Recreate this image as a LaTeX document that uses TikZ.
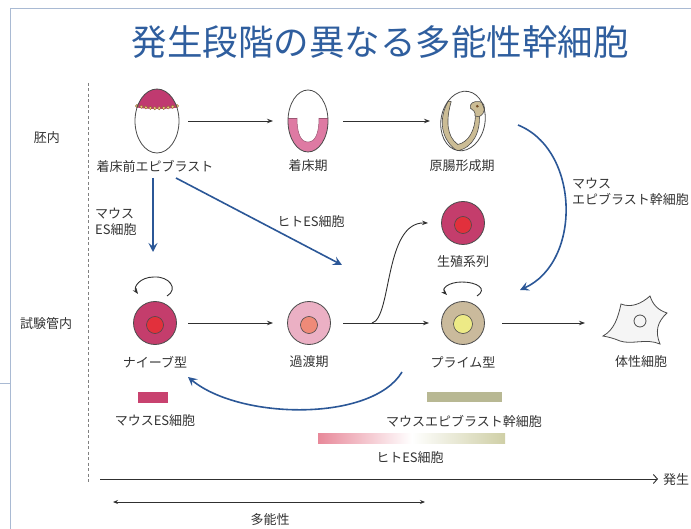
\documentclass[tikz,border=0pt]{standalone}
\usepackage{fontspec}
\setmainfont{Noto Sans CJK JP}
\usetikzlibrary{arrows.meta,calc,shapes.geometric}

\definecolor{titleblue}{HTML}{2F5E9E}
\definecolor{blu}{HTML}{2B5797}
\definecolor{frame}{HTML}{A9BAD3}
\definecolor{txt}{HTML}{333333}
\definecolor{edge}{HTML}{4A4A4A}
\definecolor{arr}{HTML}{303030}
\definecolor{capc}{HTML}{C03A70}
\definecolor{beadc}{HTML}{E6C27A}
\definecolor{implc}{HTML}{DE7AA3}
\definecolor{tanc}{HTML}{CBBC95}
\definecolor{naivec}{HTML}{C43D6C}
\definecolor{naivenuc}{HTML}{E2303C}
\definecolor{transc}{HTML}{EBB0C4}
\definecolor{transnuc}{HTML}{EF8A78}
\definecolor{primedc}{HTML}{CABA9C}
\definecolor{primednuc}{HTML}{EDEA86}
\definecolor{somac}{HTML}{F5F5F5}
\definecolor{mesc}{HTML}{C8426F}
\definecolor{episc}{HTML}{B8B893}
\definecolor{hpink}{HTML}{E8899A}
\definecolor{hkhaki}{HTML}{CFCFA6}

\tikzset{
  lbl/.style={font=\fontsize{13}{16}\selectfont, text=txt, inner sep=0pt},
  outl/.style={draw=edge, line width=0.8pt},
  flow/.style={draw=arr, line width=0.9pt, -{Stealth[length=6pt,width=4.5pt]}},
  bluearr/.style={draw=blu, line width=1.6pt, -{Stealth[length=9pt,width=9pt,inset=3.5pt]}},
  cellnode/.style={circle, draw=edge, line width=0.8pt, minimum size=43pt, inner sep=0pt},
  nucleus/.style={circle, draw=edge, line width=0.6pt, minimum size=17pt, inner sep=0pt},
  embryo/.style={ellipse, draw=edge, line width=0.8pt, inner sep=0pt},
}

\begin{document}
\begin{tikzpicture}[x=1pt,y=-1pt]
\useasboundingbox (0,0) rectangle (691,529);

% slide frame
\draw[frame, line width=0.8pt] (10,8) -- (691,8);
\draw[frame, line width=0.8pt] (10,8) -- (10,529);
\draw[frame, line width=0.6pt] (0,383) -- (10,383);

% title
\node[font=\fontsize{35.5}{42}\selectfont, text=titleblue, inner sep=0pt] (title) at (380,42) {発生段階の異なる多能性幹細胞};

% row separator and row labels
\draw[gray, line width=0.7pt, dash pattern=on 3pt off 2.5pt] (88,83) -- (88,483);
\node[lbl] (invivo) at (47,138) {胚内};
\node[lbl] (invitro) at (46,324) {試験管内};

% --- pre-implantation epiblast
\fill[white] (157,121) ellipse [x radius=22pt, y radius=32pt];
\begin{scope}
  \clip (157,121) ellipse [x radius=22pt, y radius=32pt];
  \fill[capc] (130,80) -- (185,80) -- (185,106) .. controls (170,110) and (144,110) .. (130,106) -- cycle;
\end{scope}
\foreach \t in {0,...,9} {
  \pgfmathsetmacro{\bx}{137+\t*4.45}
  \pgfmathsetmacro{\by}{106+2.2*sin(\t*20)}
  \filldraw[fill=beadc, draw=brown!70!black, line width=0.3pt] (\bx,\by) circle [radius=1.7pt];
}
\node[embryo, minimum width=44pt, minimum height=64pt] (pre) at (157,121) {};
\node[lbl] (prelbl) at (155,166) {着床前エピブラスト};

% --- implantation stage
\begin{scope}
  \clip (308,121) ellipse [x radius=20pt, y radius=31pt];
  \fill[implc] (285,118) rectangle (331,155);
  \fill[white] (297,118) -- (319,118) .. controls (319,134) and (315,142) .. (308,142) .. controls (301,142) and (297,134) .. (297,118) -- cycle;
\end{scope}
\draw[implc!70!black, line width=0.5pt] (297,118) .. controls (297,134) and (301,142) .. (308,142) .. controls (315,142) and (319,134) .. (319,118);
\draw[implc!70!black, line width=0.5pt] (288.4,118) -- (297,118) (319,118) -- (327.6,118);
\node[embryo, minimum width=40pt, minimum height=62pt] (impl) at (308,121) {};
\node[lbl] (impllbl) at (308,166) {着床期};

% --- gastrulation stage
\begin{scope}[rotate around={-10:(463,121)}]
  \fill[white] (463,121) ellipse [x radius=22pt, y radius=30pt];
  \begin{scope}
    \clip (463,121) ellipse [x radius=22pt, y radius=30pt];
    \fill[tanc, draw=edge, line width=0.6pt]
      (445,104) .. controls (440,118) and (440,140) .. (462,151.5)
      .. controls (478,146) and (482,128) .. (478,112)
      -- (474,112) .. controls (477,128) and (472,141) .. (462,145)
      .. controls (449,139) and (446,122) .. (448,104) -- cycle;
  \end{scope}
  \filldraw[fill=tanc, draw=edge, line width=0.6pt]
    (478,114) .. controls (484,110) and (484,100) .. (476,99)
    .. controls (470,99) and (466,103) .. (468,107)
    .. controls (471,108) and (474,110) .. (474,114) -- cycle;
  \fill[brown!60!black] (474.5,104) circle [radius=1.5pt];
  \node[embryo, minimum width=44pt, minimum height=60pt, rotate=-10] (gast) at (463,121) {};
\end{scope}
\node[lbl] (gastlbl) at (462,166) {原腸形成期};

% --- cultured cells
\node[cellnode, fill=naivec] (naive) at (155,323) {};
\node[nucleus, fill=naivenuc] (naivenucleus) at (155,325) {};
\node[lbl] (naivelbl) at (155,362) {ナイーブ型};

\node[cellnode, fill=transc] (trans) at (309,323) {};
\node[nucleus, fill=transnuc] (transnucleus) at (309,325) {};
\node[lbl] (translbl) at (309,362) {過渡期};

\node[cellnode, fill=primedc] (primed) at (463,323) {};
\node[nucleus, fill=primednuc, minimum size=19pt] (primednucleus) at (463,324) {};
\node[lbl] (primedlbl) at (463,362) {プライム型};

\node[cellnode, fill=naivec] (germ) at (463,223) {};
\node[nucleus, fill=naivenuc] (germnucleus) at (463,225) {};
\node[lbl] (germlbl) at (463,262) {生殖系列};

% somatic cell
\coordinate (soma) at (637,321);
\filldraw[fill=somac, draw=edge, line width=0.8pt]
  (603,336) .. controls (614,330) and (618,318) .. (621,304)
  .. controls (631,308) and (641,304) .. (650,296)
  .. controls (653,305) and (658,310) .. (667,313)
  .. controls (657,322) and (655,332) .. (660,344)
  .. controls (646,338) and (632,345) .. (620,341)
  .. controls (613,338) and (608,337) .. (603,336) -- cycle;
\draw[edge, line width=0.8pt] (640,321) circle [radius=6pt];
\node[lbl] (somalbl) at (641,362) {体性細胞};

% --- in vivo progression
\draw[flow] ($(pre)+(31,0)$) -- ($(impl)+(-35,0)$);
\draw[flow] ($(impl)+(35,0)$) -- ($(gast)+(-33,0)$);

% --- in vitro progression
\draw[flow] ($(naive)+(33,0)$) -- ($(trans)+(-36,0)$);
\draw[flow] ($(trans)+(34,0)$) -- ($(primed)+(-34,0)$);
\draw[flow] ($(primed)+(39,0)$) -- ($(soma)+(-52,2)$);
\coordinate (branch) at (372,323);
\draw[flow] (branch) .. controls (392,318) and (384,222) .. ($(germ)+(-35,0)$);

% self-renewal loops
\draw[flow] ($(naive)+(12,-27)$) .. controls ($(naive)+(24,-34)$) and ($(naive)+(14,-47)$) .. ($(naive)+(-1,-46)$)
  .. controls ($(naive)+(-15,-46)$) and ($(naive)+(-22,-36)$) .. ($(naive)+(-17,-29)$);
\draw[flow] ($(primed)+(14,-27)$) .. controls ($(primed)+(25,-34)$) and ($(primed)+(14,-41)$) .. ($(primed)+(-1,-41)$)
  .. controls ($(primed)+(-15,-41)$) and ($(primed)+(-22,-34)$) .. ($(primed)+(-16,-28)$);

% --- derivations (blue)
\draw[bluearr] ($(pre)+(-4,57)$) -- ($(naive)+(-2,-71)$);
\node[lbl, align=left, anchor=west] (mesclbl) at (95,222) {マウス\\ES細胞};
\draw[bluearr] ($(pre)+(19,57)$) -- ($(trans)+(33,-58)$);
\node[lbl] (hesclbl) at (311,222) {ヒトES細胞};
\draw[bluearr] ($(gast)+(55,4)$) .. controls (580,150) and (582,262) .. ($(primed)+(57,-33)$);
\node[lbl, align=left, anchor=west] (episclbl) at (572,192) {マウス\\エピブラスト幹細胞};
\draw[bluearr] ($(primed)+(-61,49)$) .. controls (372,422) and (240,420) .. ($(naive)+(33,54)$);

% --- legend bars
\fill[mesc] (138,392) rectangle (168,403);
\node[lbl] (mesclegend) at (155,421) {マウスES細胞};
\fill[episc] (427,392) rectangle (502,402);
\node[lbl] (episclegend) at (464,421) {マウスエピブラスト幹細胞};
\shade[left color=hpink, right color=hkhaki, middle color=white] (318,433) rectangle (505,443);
\node[lbl] (hesclegend) at (410,458) {ヒトES細胞};

% --- axes
\coordinate (axstart) at (100,479);
\coordinate (axend) at (658,479);
\draw[arr, line width=0.9pt, -{Straight Barb[length=4pt,width=9pt]}] (axstart) -- (axend);
\node[lbl, anchor=west] (devlbl) at (663,480) {発生};
\coordinate (pl) at (113,502);
\coordinate (pr) at (425,502);
\draw[arr, line width=0.9pt, {Stealth[length=5pt,width=4pt]}-{Stealth[length=5pt,width=4pt]}] (pl) -- (pr);
\node[lbl] (plurilbl) at (270,520) {多能性};
\end{tikzpicture}
\end{document}
